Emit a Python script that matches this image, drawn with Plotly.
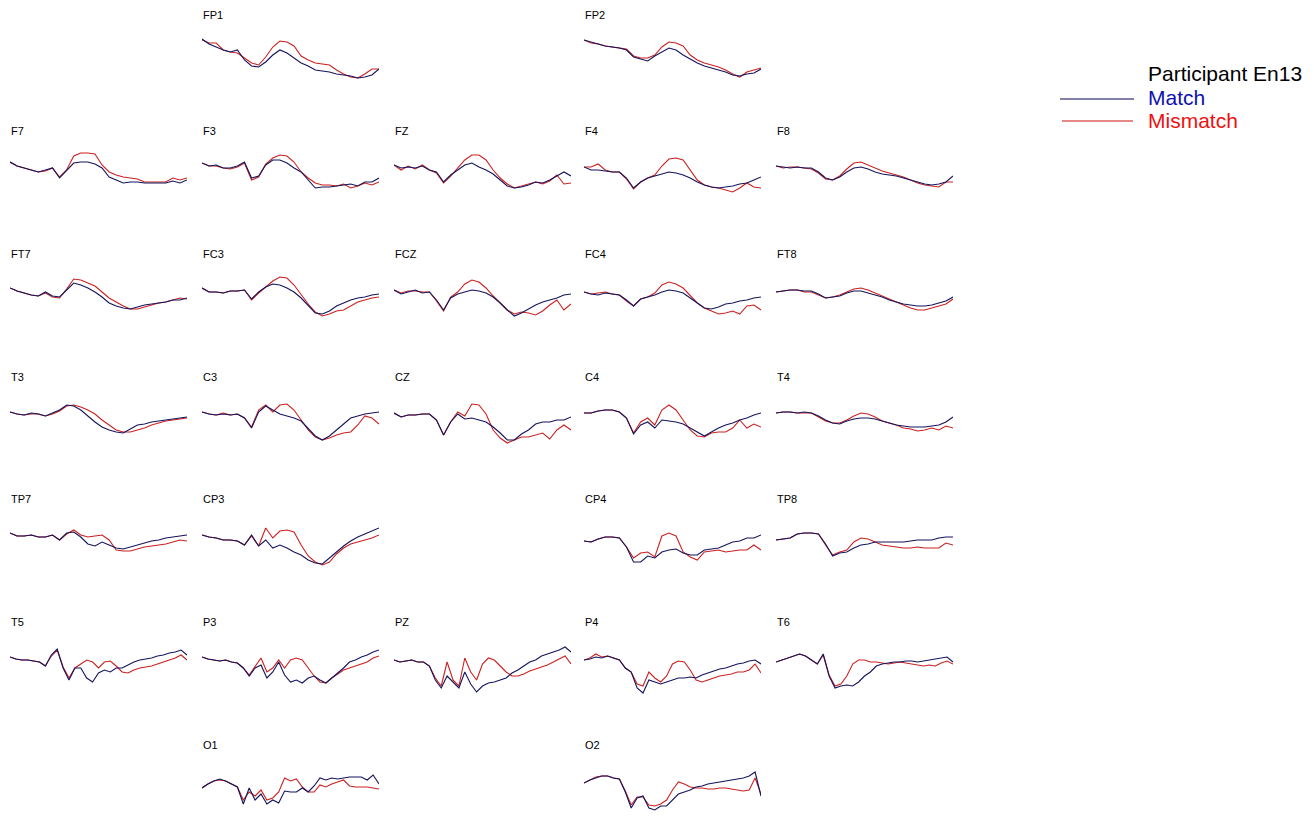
import numpy as np
import plotly.graph_objects as go

# page body has an 8px default margin; work in reference pixel coords and shift
OFF = 8
W, H = 1314 - OFF, 817 - OFF

# ---- Data: amplitude per channel (arbitrary units, up = positive) ----
FP1_match = [19,14,11,8,6,8,-2,-8,-9,-4,3,8,5,0,-5,-8,-12,-13,-14,-16,-17,-18,-20,-19,-17,-11]
FP1_mismatch = [18,15,15,8,6,5,0,-5,-7,1,11,17,16,12,2,-2,-5,-6,-7,-12,-16,-19,-20,-16,-11,-11]
FP2_match = [18,16,14,12,11,10,8,1,-1,-3,2,6,10,8,3,-1,-5,-8,-10,-12,-14,-17,-18,-16,-15,-11]
FP2_mismatch = [18,15,14,12,11,10,9,2,0,0,3,11,16,15,12,3,-2,-5,-7,-9,-12,-16,-19,-14,-12,-10]

F7_match = [19,15,13,11,9,11,13,3,11,18,19,19,17,13,4,1,-2,-1,-1,-2,-2,-2,-2,0,-2,1]
F7_mismatch = [19,15,13,11,9,10,13,4,11,25,28,28,27,16,9,6,4,3,2,-1,-1,-1,-1,3,1,3]
F3_match = [18,15,16,13,13,15,19,3,5,16,21,21,18,13,9,1,-7,-6,-6,-5,-4,-3,-5,-1,-1,3]
F3_mismatch = [18,15,15,13,12,14,18,1,4,17,23,26,25,19,9,3,-2,-4,-4,-5,-3,-7,-5,-2,-4,-1]
FZ_match = [16,13,14,13,15,11,9,-1,6,11,16,18,14,11,7,1,-5,-7,-6,-4,-1,-2,1,5,9,5]
FZ_mismatch = [16,11,15,12,16,11,8,-2,5,13,21,26,26,21,11,3,-3,-7,-5,-3,-1,-3,0,6,-3,-2]
F4_match = [14,11,11,10,9,9,3,-7,-1,3,5,7,9,8,6,3,-1,-4,-6,-7,-6,-5,-3,-2,1,4]
F4_mismatch = [14,14,17,11,9,9,2,-8,-1,3,6,15,22,23,21,11,1,-4,-6,-7,-9,-11,-7,-2,-6,-7]
F8_match = [15,14,13,14,13,13,9,3,1,4,9,13,14,12,9,7,6,5,3,1,-1,-3,-4,-3,-1,5]
F8_mismatch = [15,13,14,14,13,12,8,2,1,5,12,18,19,16,13,10,8,6,4,1,-2,-4,-5,-6,-1,-1]

FT7_match = [16,13,11,9,8,12,8,7,14,21,19,16,12,7,1,-2,-4,-5,-3,-1,0,1,2,4,4,6]
FT7_mismatch = [16,13,11,9,8,11,7,6,15,25,24,21,18,12,6,2,-2,-5,-5,-3,-1,1,2,4,6,5]
FC3_match = [16,12,12,11,13,13,14,5,12,17,20,19,16,12,6,-2,-9,-10,-7,-2,1,4,6,7,9,10]
FC3_mismatch = [16,12,12,11,13,13,14,4,11,17,23,27,26,19,9,0,-8,-12,-10,-7,-6,-2,2,4,6,7]
FCZ_match = [14,10,12,14,11,12,4,-6,6,10,12,14,13,11,7,1,-6,-12,-9,-5,-1,2,4,6,9,10]
FCZ_mismatch = [14,11,13,13,12,12,3,-7,7,12,20,24,22,16,8,1,-6,-10,-8,-9,-11,-7,-1,4,-6,0]
FC4_match = [12,10,9,11,10,9,4,-2,5,7,9,12,14,13,11,6,1,-4,-5,-3,0,1,3,4,6,7]
FC4_mismatch = [12,10,11,12,10,9,3,-2,5,7,11,19,22,20,16,8,1,-4,-7,-10,-9,-7,-10,-2,-1,-6]
FT8_match = [12,13,14,14,13,13,10,6,7,8,11,13,13,11,9,7,4,2,0,-1,-2,-2,-1,1,3,7]
FT8_mismatch = [12,13,14,14,12,12,9,6,7,9,12,15,16,14,11,8,5,2,-1,-4,-6,-6,-4,-2,0,5]

T3_match = [15,13,12,14,13,11,14,17,22,21,17,11,5,0,-3,-5,-6,-2,2,3,5,6,7,8,9,10]
T3_mismatch = [15,13,12,13,13,11,13,16,21,22,20,17,13,7,2,-3,-5,-5,-3,-1,2,4,6,7,8,9]
C3_match = [15,13,12,13,12,13,9,-1,15,21,17,13,11,9,6,-1,-9,-13,-9,-3,3,9,11,13,14,15]
C3_mismatch = [15,13,12,14,12,13,9,0,17,22,15,22,23,17,7,-3,-10,-13,-11,-8,-6,-5,2,11,9,3]
CZ_match = [14,10,12,12,13,13,7,-8,5,13,8,9,7,5,0,-6,-13,-13,-7,-3,3,5,5,7,7,10]
CZ_mismatch = [14,10,12,12,13,13,7,-8,5,15,11,23,22,13,-3,-11,-16,-13,-10,-10,-8,-6,-12,-3,2,-3]
C4_match = [14,14,16,17,17,15,9,-7,2,5,-1,7,6,5,3,-1,-5,-9,-5,-1,2,4,7,9,12,14]
C4_mismatch = [14,14,16,17,17,15,9,-6,5,9,2,17,22,17,7,-3,-9,-10,-6,-5,-5,-1,7,-1,3,0]
T4_match = [14,15,15,14,15,14,11,7,4,3,6,8,9,9,8,6,4,2,1,0,0,0,1,2,5,10]
T4_mismatch = [14,15,15,14,14,14,10,6,4,4,7,11,14,13,10,6,4,2,-1,-2,-4,-3,-1,-3,1,-1]

TP7_match = [16,13,13,14,12,12,14,9,16,17,12,5,3,7,4,1,0,2,4,6,8,9,11,12,13,14]
TP7_mismatch = [16,13,13,14,12,12,14,9,15,19,14,12,13,14,9,-1,-2,-2,0,2,3,4,5,7,9,8]
CP3_match = [14,12,11,9,9,8,4,14,3,9,1,4,1,-3,-6,-11,-14,-15,-9,-3,3,8,12,15,18,21]
CP3_mismatch = [14,12,11,9,9,8,4,13,3,21,11,18,19,17,4,-7,-13,-16,-13,-5,1,5,7,9,11,14]
CP4_match = [8,7,10,12,12,11,2,-13,-13,-7,-9,-3,-1,0,-4,-6,-6,-1,0,1,4,7,8,11,11,14]
CP4_mismatch = [8,7,10,12,12,11,2,-9,-4,-3,-8,13,16,13,-3,-8,-11,-3,-2,-1,-3,-2,-1,-1,4,-1]
TP8_match = [9,10,11,15,16,16,15,5,-7,-4,-3,1,4,5,7,7,7,7,7,8,9,9,9,11,12,12]
TP8_mismatch = [9,10,11,15,16,16,15,4,-6,-3,-1,7,11,10,7,4,3,2,1,1,2,1,1,1,6,4]

T5_match = [15,13,12,12,11,10,6,17,23,4,-8,4,4,-6,-10,-1,2,0,4,4,7,10,12,13,14,16,17,19,20,22,17]
T5_mismatch = [15,13,12,12,11,10,6,16,22,5,-6,4,8,12,10,4,10,11,6,0,-1,2,4,5,6,8,10,12,14,17,12]
P3_match = [15,13,12,11,12,10,9,4,-4,4,7,-6,0,10,-3,-10,-8,-11,-6,-4,-8,-11,-6,-1,4,10,12,15,17,20,22]
P3_mismatch = [15,13,12,11,12,10,9,4,-3,6,14,0,4,12,4,12,14,12,4,-4,-10,-11,-6,-2,2,4,6,8,10,14,16]
PZ_match = [12,10,11,12,10,10,6,-8,-16,-4,-10,-16,0,-12,-20,-14,-11,-10,-8,-6,-1,2,6,10,12,16,18,20,22,25,20]
PZ_mismatch = [12,10,11,12,10,10,6,-6,-14,10,-8,-14,14,0,-8,8,14,12,6,0,-4,-4,-2,1,3,5,7,10,13,16,8]
P4_match = [12,13,15,14,16,14,12,4,0,-16,-21,-8,-10,-12,-10,-8,-6,-6,-5,-6,-3,-1,1,3,4,6,8,9,11,12,8]
P4_mismatch = [12,14,18,15,16,14,12,4,0,-12,-14,0,-6,-10,-4,8,11,10,2,-8,-10,-8,-6,-4,-3,-2,0,0,2,8,-1]
T6_match = [10,12,14,16,18,16,12,8,18,-4,-16,-14,-13,-14,-10,-4,0,6,8,9,10,10,11,11,10,11,12,13,14,15,10]
T6_mismatch = [10,12,14,16,18,16,12,8,17,-3,-14,-12,-4,8,12,12,10,10,9,8,9,10,9,8,7,6,7,6,9,11,8]

O1_match = [7,11,14,16,14,11,8,-9,7,-5,1,-9,-5,-8,4,3,3,7,3,9,17,15,17,16,17,18,18,18,15,20,11]
O1_mismatch = [7,11,14,15,14,11,8,-5,3,-1,5,-5,-3,3,17,14,16,8,3,3,10,8,11,13,15,9,8,8,8,7,6]
O2_match = [12,15,17,19,19,17,16,3,-13,-3,-1,-13,-15,-11,-11,-5,1,3,5,8,9,11,12,13,14,15,16,17,19,23,-1]
O2_mismatch = [12,15,18,19,19,17,16,4,-10,-2,-2,-10,-11,-9,-5,5,13,11,8,7,7,6,6,7,7,6,5,4,5,17,1]

channels = ["FP1", "FP2",
            "F7", "F3", "FZ", "F4", "F8",
            "FT7", "FC3", "FCZ", "FC4", "FT8",
            "T3", "C3", "CZ", "C4", "T4",
            "TP7", "CP3", "CP4", "TP8",
            "T5", "P3", "PZ", "P4", "T6",
            "O1", "O2"]
match = {c: globals()[c + "_match"] for c in channels}
mismatch = {c: globals()[c + "_mismatch"] for c in channels}

legend_title = "Participant En13"
series_names = ["Match", "Mismatch"]

# ---- Layout geometry (grid positions, reference pixel coords) ----
grid = {"FP1": (0, 1), "FP2": (0, 3),
        "F7": (1, 0), "F3": (1, 1), "FZ": (1, 2), "F4": (1, 3), "F8": (1, 4),
        "FT7": (2, 0), "FC3": (2, 1), "FCZ": (2, 2), "FC4": (2, 3), "FT8": (2, 4),
        "T3": (3, 0), "C3": (3, 1), "CZ": (3, 2), "C4": (3, 3), "T4": (3, 4),
        "TP7": (4, 0), "CP3": (4, 1), "CP4": (4, 3), "TP8": (4, 4),
        "T5": (5, 0), "P3": (5, 1), "PZ": (5, 2), "P4": (5, 3), "T6": (5, 4),
        "O1": (6, 1), "O2": (6, 3)}
COL_X = [10, 202, 394, 584, 776]
PANEL_W = 177
TITLE_Y = [8, 131, 254, 377, 499, 622, 745]
HALF = 35


def px(x):
    return (x - OFF) / W


def py(y):
    return 1 - (y - OFF) / H


NAVY = "#14145e"
RED = "#cc2020"
FONT = "Liberation Sans, Arial"

fig = go.Figure()
layout_axes = {}
annotations = []
for i, ch in enumerate(channels):
    r, c = grid[ch]
    n = i + 1
    xa = "x" if n == 1 else f"x{n}"
    ya = "y" if n == 1 else f"y{n}"
    center = TITLE_Y[r] + 50
    top = center - HALF
    bot = min(center + HALF, H + OFF)
    x0 = COL_X[c]
    layout_axes["xaxis" if n == 1 else f"xaxis{n}"] = dict(
        domain=[px(x0), px(x0 + PANEL_W)], range=[0, 1], visible=False,
        anchor=ya, fixedrange=True)
    layout_axes["yaxis" if n == 1 else f"yaxis{n}"] = dict(
        domain=[py(bot), py(top)], range=[center - bot, center - top],
        visible=False, anchor=xa, fixedrange=True)
    mm = mismatch[ch]
    m = match[ch]
    fig.add_trace(go.Scatter(x=np.linspace(0, 1, len(mm)), y=mm, mode="lines",
                             line=dict(color=RED, width=1.1), xaxis=xa, yaxis=ya,
                             showlegend=False, hoverinfo="skip"))
    fig.add_trace(go.Scatter(x=np.linspace(0, 1, len(m)), y=m, mode="lines",
                             line=dict(color=NAVY, width=1.1), xaxis=xa, yaxis=ya,
                             showlegend=False, hoverinfo="skip"))
    if r == 0:
        ann_y, anchor = 1.0, "top"
    else:
        ann_y, anchor = py(TITLE_Y[r]), "middle"
    annotations.append(dict(text=ch, x=px(x0), y=ann_y, xref="paper",
                            yref="paper", xanchor="left", yanchor=anchor,
                            showarrow=False, borderpad=0,
                            font=dict(family=FONT, size=11, color="black")))

# custom legend
LEG_SIZE = 21
annotations.append(dict(text=legend_title, x=px(1146), y=py(73), xref="paper", yref="paper",
                        xanchor="left", yanchor="middle", showarrow=False,
                        font=dict(family=FONT, size=LEG_SIZE, color="black")))
annotations.append(dict(text=series_names[0], x=px(1146), y=py(97), xref="paper", yref="paper",
                        xanchor="left", yanchor="middle", showarrow=False,
                        font=dict(family=FONT, size=LEG_SIZE, color="#1010b0")))
annotations.append(dict(text=series_names[1], x=px(1146), y=py(121), xref="paper", yref="paper",
                        xanchor="left", yanchor="middle", showarrow=False,
                        font=dict(family=FONT, size=LEG_SIZE, color="#ee1010")))
shapes = [
    dict(type="line", xref="paper", yref="paper", x0=px(1060), x1=px(1134),
         y0=py(99), y1=py(99), line=dict(color="#000050", width=1)),
    dict(type="line", xref="paper", yref="paper", x0=px(1062), x1=px(1133),
         y0=py(121), y1=py(121), line=dict(color="#cc1010", width=1)),
]

fig.update_layout(width=W, height=H, margin=dict(l=0, r=0, t=0, b=0),
                  paper_bgcolor="white", plot_bgcolor="white",
                  annotations=annotations, shapes=shapes, showlegend=False,
                  **layout_axes)
fig.write_html("out.html")
